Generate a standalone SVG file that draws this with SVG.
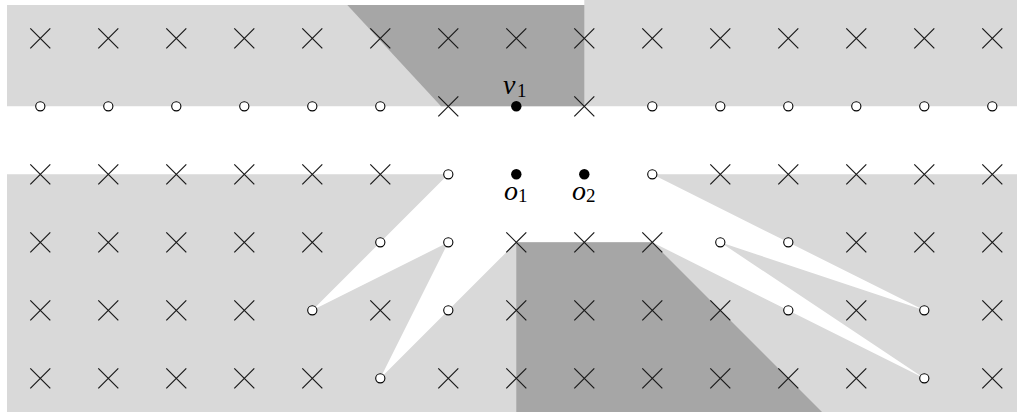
<svg xmlns="http://www.w3.org/2000/svg" xmlns:xlink="http://www.w3.org/1999/xlink" width="1017" height="412" viewBox="0 0 1017 412">
<style>
.light{fill:#d9d9d9}
.dark{fill:#a6a6a6}
.white{fill:#ffffff}
.x{stroke:#1a1a1a;stroke-width:1.2;fill:none}
.o{stroke:#000;stroke-width:1.1;fill:#fff}
.dot{fill:#000}
.lbl{font-family:"Liberation Serif",serif;font-style:italic;font-size:28px;fill:#000}
.sub{font-style:normal;font-size:19px}
</style>
<defs>
<path id="cross" class="x" d="M-10,-10L10,10M-10,10L10,-10"/>
<circle id="ring" class="o" r="4.6"/>
<circle id="full" class="dot" r="5.2"/>
</defs>
<g id="regions">
<rect class="light" x="7" y="5" width="1010" height="407"/>
<rect class="light" x="584.3" y="0" width="432.7" height="6"/>
<path class="white" d="M0,106.3H1017V174.3H652.3L788.3,242.3L924.3,310.3L720.3,242.3L924.3,378.3L652.3,242.3H516.3L448.3,310.3L380.3,378.3L448.3,242.3L312.3,310.3L380.3,242.3L448.3,174.3H0Z"/>
<path class="dark" d="M347.3,5H584.3V106.3H441Z"/>
<path class="dark" d="M516.3,242.3H652.3L822,412H516.3Z"/>
</g>
<g id="connectors"></g>
<g id="row0">
<g id="n0_0"><use xlink:href="#cross" x="40.3" y="38.3"/></g>
<g id="n0_1"><use xlink:href="#cross" x="108.3" y="38.3"/></g>
<g id="n0_2"><use xlink:href="#cross" x="176.3" y="38.3"/></g>
<g id="n0_3"><use xlink:href="#cross" x="244.3" y="38.3"/></g>
<g id="n0_4"><use xlink:href="#cross" x="312.3" y="38.3"/></g>
<g id="n0_5"><use xlink:href="#cross" x="380.3" y="38.3"/></g>
<g id="n0_6"><use xlink:href="#cross" x="448.3" y="38.3"/></g>
<g id="n0_7"><use xlink:href="#cross" x="516.3" y="38.3"/></g>
<g id="n0_8"><use xlink:href="#cross" x="584.3" y="38.3"/></g>
<g id="n0_9"><use xlink:href="#cross" x="652.3" y="38.3"/></g>
<g id="n0_10"><use xlink:href="#cross" x="720.3" y="38.3"/></g>
<g id="n0_11"><use xlink:href="#cross" x="788.3" y="38.3"/></g>
<g id="n0_12"><use xlink:href="#cross" x="856.3" y="38.3"/></g>
<g id="n0_13"><use xlink:href="#cross" x="924.3" y="38.3"/></g>
<g id="n0_14"><use xlink:href="#cross" x="992.3" y="38.3"/></g>
</g>
<g id="row1">
<g id="n1_0"><use xlink:href="#ring" x="40.3" y="106.3"/></g>
<g id="n1_1"><use xlink:href="#ring" x="108.3" y="106.3"/></g>
<g id="n1_2"><use xlink:href="#ring" x="176.3" y="106.3"/></g>
<g id="n1_3"><use xlink:href="#ring" x="244.3" y="106.3"/></g>
<g id="n1_4"><use xlink:href="#ring" x="312.3" y="106.3"/></g>
<g id="n1_5"><use xlink:href="#ring" x="380.3" y="106.3"/></g>
<g id="n1_6"><use xlink:href="#cross" x="448.3" y="106.3"/></g>
<g id="v1"><use xlink:href="#full" x="516.3" y="106.3"/><text class="lbl" x="503" y="94">v<tspan class="sub" x="517" y="97">1</tspan></text></g>
<g id="n1_8"><use xlink:href="#cross" x="584.3" y="106.3"/></g>
<g id="n1_9"><use xlink:href="#ring" x="652.3" y="106.3"/></g>
<g id="n1_10"><use xlink:href="#ring" x="720.3" y="106.3"/></g>
<g id="n1_11"><use xlink:href="#ring" x="788.3" y="106.3"/></g>
<g id="n1_12"><use xlink:href="#ring" x="856.3" y="106.3"/></g>
<g id="n1_13"><use xlink:href="#ring" x="924.3" y="106.3"/></g>
<g id="n1_14"><use xlink:href="#ring" x="992.3" y="106.3"/></g>
</g>
<g id="row2">
<g id="n2_0"><use xlink:href="#cross" x="40.3" y="174.3"/></g>
<g id="n2_1"><use xlink:href="#cross" x="108.3" y="174.3"/></g>
<g id="n2_2"><use xlink:href="#cross" x="176.3" y="174.3"/></g>
<g id="n2_3"><use xlink:href="#cross" x="244.3" y="174.3"/></g>
<g id="n2_4"><use xlink:href="#cross" x="312.3" y="174.3"/></g>
<g id="n2_5"><use xlink:href="#cross" x="380.3" y="174.3"/></g>
<g id="n2_6"><use xlink:href="#ring" x="448.3" y="174.3"/></g>
<g id="o1"><use xlink:href="#full" x="516.3" y="174.3"/><text class="lbl" x="504" y="200">o<tspan class="sub" x="518" y="202">1</tspan></text></g>
<g id="o2"><use xlink:href="#full" x="584.3" y="174.3"/><text class="lbl" x="572" y="200">o<tspan class="sub" x="586" y="202">2</tspan></text></g>
<g id="n2_9"><use xlink:href="#ring" x="652.3" y="174.3"/></g>
<g id="n2_10"><use xlink:href="#cross" x="720.3" y="174.3"/></g>
<g id="n2_11"><use xlink:href="#cross" x="788.3" y="174.3"/></g>
<g id="n2_12"><use xlink:href="#cross" x="856.3" y="174.3"/></g>
<g id="n2_13"><use xlink:href="#cross" x="924.3" y="174.3"/></g>
<g id="n2_14"><use xlink:href="#cross" x="992.3" y="174.3"/></g>
</g>
<g id="row3">
<g id="n3_0"><use xlink:href="#cross" x="40.3" y="242.3"/></g>
<g id="n3_1"><use xlink:href="#cross" x="108.3" y="242.3"/></g>
<g id="n3_2"><use xlink:href="#cross" x="176.3" y="242.3"/></g>
<g id="n3_3"><use xlink:href="#cross" x="244.3" y="242.3"/></g>
<g id="n3_4"><use xlink:href="#cross" x="312.3" y="242.3"/></g>
<g id="n3_5"><use xlink:href="#ring" x="380.3" y="242.3"/></g>
<g id="n3_6"><use xlink:href="#ring" x="448.3" y="242.3"/></g>
<g id="n3_7"><use xlink:href="#cross" x="516.3" y="242.3"/></g>
<g id="n3_8"><use xlink:href="#cross" x="584.3" y="242.3"/></g>
<g id="n3_9"><use xlink:href="#cross" x="652.3" y="242.3"/></g>
<g id="n3_10"><use xlink:href="#ring" x="720.3" y="242.3"/></g>
<g id="n3_11"><use xlink:href="#ring" x="788.3" y="242.3"/></g>
<g id="n3_12"><use xlink:href="#cross" x="856.3" y="242.3"/></g>
<g id="n3_13"><use xlink:href="#cross" x="924.3" y="242.3"/></g>
<g id="n3_14"><use xlink:href="#cross" x="992.3" y="242.3"/></g>
</g>
<g id="row4">
<g id="n4_0"><use xlink:href="#cross" x="40.3" y="310.3"/></g>
<g id="n4_1"><use xlink:href="#cross" x="108.3" y="310.3"/></g>
<g id="n4_2"><use xlink:href="#cross" x="176.3" y="310.3"/></g>
<g id="n4_3"><use xlink:href="#cross" x="244.3" y="310.3"/></g>
<g id="n4_4"><use xlink:href="#ring" x="312.3" y="310.3"/></g>
<g id="n4_5"><use xlink:href="#cross" x="380.3" y="310.3"/></g>
<g id="n4_6"><use xlink:href="#ring" x="448.3" y="310.3"/></g>
<g id="n4_7"><use xlink:href="#cross" x="516.3" y="310.3"/></g>
<g id="n4_8"><use xlink:href="#cross" x="584.3" y="310.3"/></g>
<g id="n4_9"><use xlink:href="#cross" x="652.3" y="310.3"/></g>
<g id="n4_10"><use xlink:href="#cross" x="720.3" y="310.3"/></g>
<g id="n4_11"><use xlink:href="#ring" x="788.3" y="310.3"/></g>
<g id="n4_12"><use xlink:href="#cross" x="856.3" y="310.3"/></g>
<g id="n4_13"><use xlink:href="#ring" x="924.3" y="310.3"/></g>
<g id="n4_14"><use xlink:href="#cross" x="992.3" y="310.3"/></g>
</g>
<g id="row5">
<g id="n5_0"><use xlink:href="#cross" x="40.3" y="378.3"/></g>
<g id="n5_1"><use xlink:href="#cross" x="108.3" y="378.3"/></g>
<g id="n5_2"><use xlink:href="#cross" x="176.3" y="378.3"/></g>
<g id="n5_3"><use xlink:href="#cross" x="244.3" y="378.3"/></g>
<g id="n5_4"><use xlink:href="#cross" x="312.3" y="378.3"/></g>
<g id="n5_5"><use xlink:href="#ring" x="380.3" y="378.3"/></g>
<g id="n5_6"><use xlink:href="#cross" x="448.3" y="378.3"/></g>
<g id="n5_7"><use xlink:href="#cross" x="516.3" y="378.3"/></g>
<g id="n5_8"><use xlink:href="#cross" x="584.3" y="378.3"/></g>
<g id="n5_9"><use xlink:href="#cross" x="652.3" y="378.3"/></g>
<g id="n5_10"><use xlink:href="#cross" x="720.3" y="378.3"/></g>
<g id="n5_11"><use xlink:href="#cross" x="788.3" y="378.3"/></g>
<g id="n5_12"><use xlink:href="#cross" x="856.3" y="378.3"/></g>
<g id="n5_13"><use xlink:href="#ring" x="924.3" y="378.3"/></g>
<g id="n5_14"><use xlink:href="#cross" x="992.3" y="378.3"/></g>
</g>
</svg>
